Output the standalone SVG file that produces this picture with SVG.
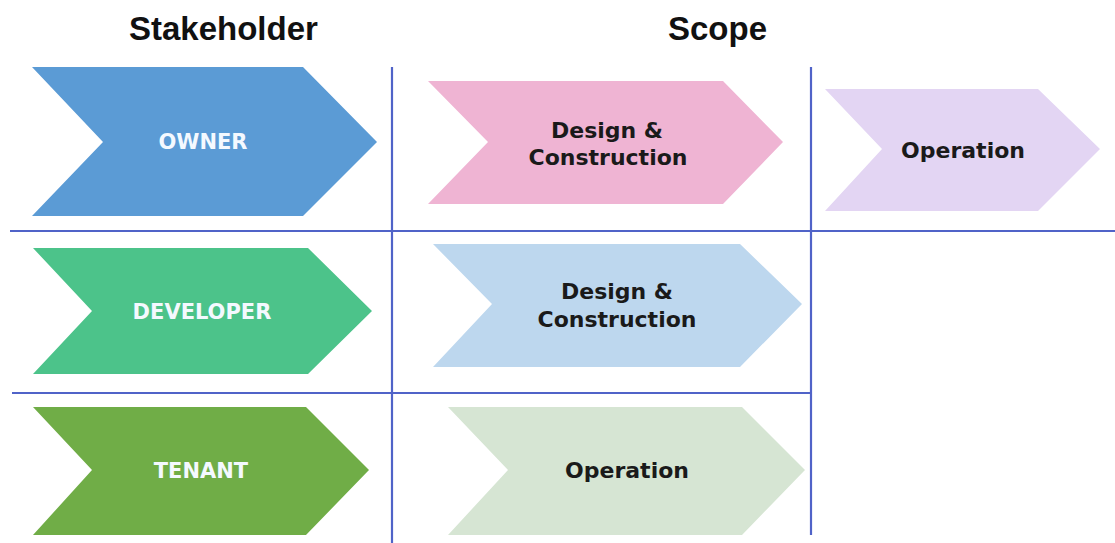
<svg xmlns="http://www.w3.org/2000/svg" width="1115" height="543" viewBox="0 0 1115 543">
<style>
.title{font-family:"Liberation Sans",Arial,sans-serif;font-weight:bold;font-size:33px;fill:#111}
.lbl{font-family:"DejaVu Sans",Verdana,sans-serif;font-weight:bold;font-size:21px;fill:#F4F9FF;text-anchor:middle}
.scp{font-family:"DejaVu Sans",Verdana,sans-serif;font-weight:bold;font-size:22px;fill:#1a1a1a;text-anchor:middle}
.grid{stroke:#5063C8;stroke-width:2.2;fill:none}
</style>
<rect width="1115" height="543" fill="#ffffff"/>
<text class="title" x="129" y="40">Stakeholder</text>
<text class="title" x="668" y="40">Scope</text>
<g id="connectors">
<line class="grid" x1="392" y1="67" x2="392" y2="543"/>
<line class="grid" x1="811" y1="67" x2="811" y2="535"/>
<line class="grid" x1="10" y1="231" x2="1115" y2="231"/>
<line class="grid" x1="12" y1="393" x2="811" y2="393"/>
</g>
<g id="owner">
<polygon points="32,67 303,67 377,142 303,216 32,216 103,142" fill="#5B9BD5"/>
<text class="lbl" x="203" y="149">OWNER</text>
</g>
<g id="developer">
<polygon points="33,248 308,248 372,311 308,374 33,374 92,311" fill="#4CC38A"/>
<text class="lbl" x="202" y="319">DEVELOPER</text>
</g>
<g id="tenant">
<polygon points="33,407 306,407 369,470 306,535 33,535 92,470" fill="#70AD47"/>
<text class="lbl" x="201" y="478">TENANT</text>
</g>
<g id="owner-design">
<polygon points="428,81 723,81 783,142 723,204 428,204 488,142" fill="#EFB4D3"/>
<text class="scp" x="607" y="138">Design &amp;</text>
<text class="scp" x="608" y="165">Construction</text>
</g>
<g id="owner-operation">
<polygon points="825,89 1038,89 1100,149 1038,211 825,211 882,149" fill="#E3D5F3"/>
<text class="scp" x="963" y="158">Operation</text>
</g>
<g id="developer-design">
<polygon points="433,244 740,244 802,304 740,367 433,367 492,304" fill="#BDD7EE"/>
<text class="scp" x="617" y="299">Design &amp;</text>
<text class="scp" x="617" y="327">Construction</text>
</g>
<g id="tenant-operation">
<polygon points="448,407 742,407 805,470 742,535 448,535 508,470" fill="#D6E5D3"/>
<text class="scp" x="627" y="478">Operation</text>
</g>
</svg>
